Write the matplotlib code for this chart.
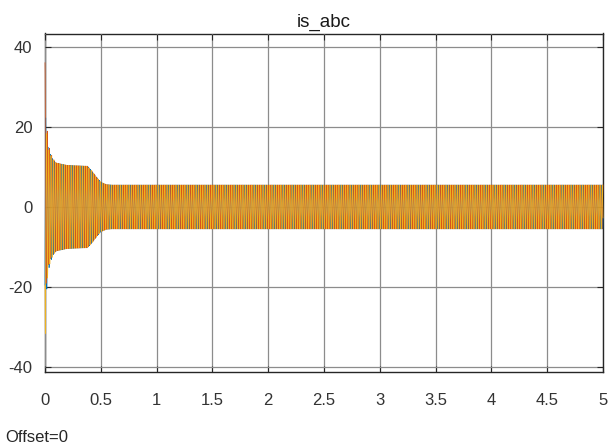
import numpy as np
import matplotlib
matplotlib.use("Agg")
from matplotlib import pyplot as plt

# envelope of the phase currents (time s, peak A)
env_t = [0.0, 0.01, 0.02, 0.04, 0.07, 0.10, 0.20, 0.38, 0.42, 0.46, 0.50, 0.55, 0.60, 5.0]
env_amp = [31.0, 22.0, 17.0, 14.0, 12.0, 11.0, 10.4, 10.2, 9.0, 7.5, 6.2, 5.6, 5.5, 5.5]

# decaying offsets at switch-on for each phase (A), and their time constant
phase_names = ["a", "b", "c"]
phase_colors = ["#0072BD", "#D95319", "#EDB120"]
phase_shift_deg = [330.0, 90.0, 210.0]
dc_offset = [-4.0, 5.0, -4.0]
dc_tau = 0.02

f_grid = 50.0   # supply frequency
dt = 2e-4       # scope sample step

xticks = [0, 0.5, 1, 1.5, 2, 2.5, 3, 3.5, 4, 4.5, 5]
xticklabels = ["0", "0.5", "1", "1.5", "2", "2.5", "3", "3.5", "4", "4.5", "5"]
yticks = [-40, -20, 0, 20, 40]

plt.rcParams["font.family"] = ["Liberation Sans", "DejaVu Sans"]
plt.rcParams["axes.unicode_minus"] = False

fig = plt.figure(figsize=(6.10, 4.46), dpi=100)
ax = fig.add_axes([45 / 610, 1 - 372 / 446, 558 / 610, (372 - 33.5) / 446])

t = np.arange(0, 5 + dt, dt)
amp = np.interp(t, env_t, env_amp)
for k in range(3):
    i = amp * np.sin(2 * np.pi * f_grid * t + np.deg2rad(phase_shift_deg[k])) \
        + dc_offset[k] * np.exp(-t / dc_tau)
    ax.plot(t, i, color=phase_colors[k], lw=0.5, zorder=3, clip_on=False)

ax.set_xlim(0, 5)
ax.set_ylim(-41.2, 43.3)
ax.set_xticks(xticks)
ax.set_xticklabels(xticklabels)
ax.set_yticks(yticks)
ax.grid(True, color="#8c8c8c", lw=0.9)
ax.set_axisbelow(False)
ax.tick_params(direction="in", top=True, right=True, length=4, width=0.8,
               labelsize=12, labelcolor="#333333", color="#262626", pad=9)
ax.tick_params(axis="x", pad=15)
for s in ax.spines.values():
    s.set_color("#262626")
    s.set_linewidth(1.0)

ax.set_title("is_abc", fontsize=13.5, color="#1a1a1a", pad=5)
fig.text(5 / 610, 1 - 437 / 446, "Offset=0", fontsize=12, color="#262626",
         va="center", ha="left")

fig.savefig("out.png", dpi=100)
